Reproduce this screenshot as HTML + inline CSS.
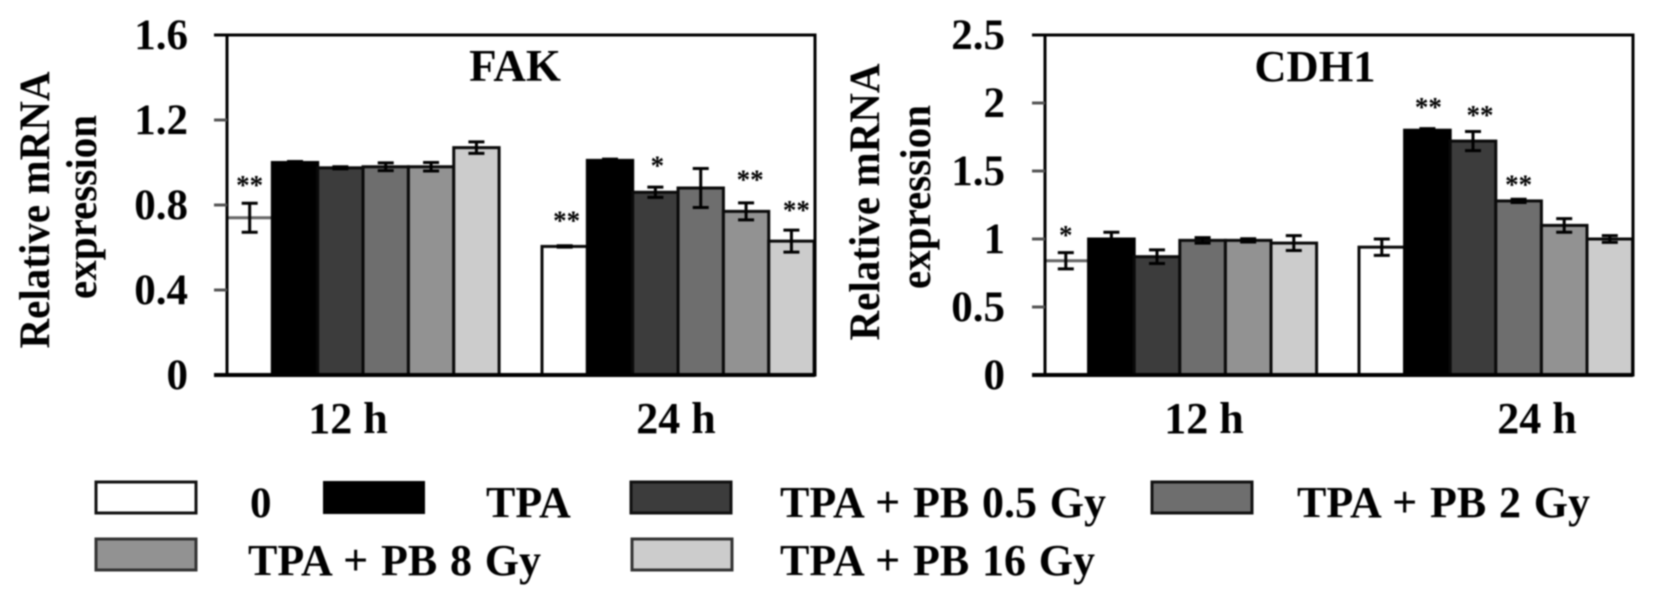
<!DOCTYPE html>
<html>
<head>
<meta charset="utf-8">
<style>
html,body{margin:0;padding:0;background:#fff;width:1654px;height:603px;overflow:hidden}
svg{display:block;filter:blur(0.7px)}
text{font-family:"Liberation Serif",serif;font-weight:bold;fill:#000}
.legend-text{word-spacing:1.8px}
</style>
</head>
<body>
<svg id="figure" width="1654" height="603" viewBox="0 0 1654 603" xmlns="http://www.w3.org/2000/svg">
  <rect x="0" y="0" width="1654" height="603" fill="#fff"/>
  <g id="panel-fak"></g>
  <g id="panel-cdh1"></g>

  <text x="515" y="81" font-size="45" text-anchor="middle">FAK</text>
  <text x="1315" y="81" font-size="44.5" text-anchor="middle">CDH1</text>

  <text transform="translate(49,210) rotate(-90)" font-size="43" text-anchor="middle" textLength="277" lengthAdjust="spacingAndGlyphs">Relative mRNA</text>
  <text transform="translate(96,207) rotate(-90)" font-size="43" text-anchor="middle" textLength="184" lengthAdjust="spacingAndGlyphs">expression</text>
  <text transform="translate(879,202) rotate(-90)" font-size="43" text-anchor="middle" textLength="277" lengthAdjust="spacingAndGlyphs">Relative mRNA</text>
  <text transform="translate(930,197) rotate(-90)" font-size="43" text-anchor="middle" textLength="184" lengthAdjust="spacingAndGlyphs">expression</text>

  <g>
    <rect x="96" y="482" width="100" height="31" fill="#fff" stroke="#111" stroke-width="3"/>
    <text x="250" y="517" font-size="43">0</text>
    <rect x="324" y="482" width="100" height="31" fill="#000" stroke="#000" stroke-width="2"/>
    <text x="486" y="517" font-size="44">TPA</text>
    <rect x="631" y="482" width="100" height="31" fill="#3c3c3c" stroke="#111" stroke-width="3"/>
    <text class="legend-text" x="780" y="517" font-size="44">TPA + PB 0.5 Gy</text>
    <rect x="1152" y="482" width="100" height="31" fill="#6e6e6e" stroke="#111" stroke-width="3"/>
    <text class="legend-text" x="1297" y="517" font-size="44">TPA + PB 2 Gy</text>
    <rect x="96" y="539" width="100" height="31" fill="#929292" stroke="#333" stroke-width="3"/>
    <text class="legend-text" x="248" y="575" font-size="44">TPA + PB 8 Gy</text>
    <rect x="632" y="539" width="100" height="31" fill="#cccccc" stroke="#333" stroke-width="3"/>
    <text class="legend-text" x="780" y="575" font-size="44">TPA + PB 16 Gy</text>
  </g>
</svg>
<script>
// Shared data
const groupLabels = ['12 h', '24 h'];
const treatments = ['0', 'TPA', 'TPA + PB 0.5 Gy', 'TPA + PB 2 Gy', 'TPA + PB 8 Gy', 'TPA + PB 16 Gy'];
const barColors = ['#ffffff', '#000000', '#3c3c3c', '#6e6e6e', '#929292', '#cccccc'];

// FAK data
const fakTicks = [0, 0.4, 0.8, 1.2, 1.6];
const fakTickLabels = ['0', '0.4', '0.8', '1.2', '1.6'];
const fak12h = [0.74, 1.0, 0.975, 0.98, 0.98, 1.07];
const fak24h = [0.605, 1.01, 0.86, 0.88, 0.77, 0.63];
const fakErr12h = [0.068, 0.005, 0.005, 0.018, 0.02, 0.027];
const fakErr24h = [0.003, 0.006, 0.024, 0.092, 0.04, 0.052];
const fakStars12h = ['**', '', '', '', '', ''];
const fakStars24h = ['**', '', '*', '', '**', '**'];
const fakStarLevels12h = [0.912, 0, 0, 0, 0, 0];
const fakStarLevels24h = [0.745, 0, 1.005, 0, 0.94, 0.795];

// CDH1 data
const cdh1Ticks = [0, 0.5, 1, 1.5, 2, 2.5];
const cdh1TickLabels = ['0', '0.5', '1', '1.5', '2', '2.5'];
const cdh112h = [0.84, 1.0, 0.87, 0.99, 0.99, 0.97];
const cdh124h = [0.94, 1.8, 1.72, 1.28, 1.1, 1.0];
const cdh1Err12h = [0.06, 0.05, 0.05, 0.02, 0.012, 0.055];
const cdh1Err24h = [0.06, 0.012, 0.07, 0.012, 0.05, 0.025];
const cdh1Stars12h = ['*', '', '', '', '', ''];
const cdh1Stars24h = ['', '**', '**', '**', '', ''];
const cdh1StarLevels12h = [1.06, 0, 0, 0, 0, 0];
const cdh1StarLevels24h = [0, 2.0, 1.94, 1.43, 0, 0];

const NS = 'http://www.w3.org/2000/svg';
function make(parent, tag, attrs) {
  const el = document.createElementNS(NS, tag);
  for (const k in attrs) el.setAttribute(k, attrs[k]);
  parent.appendChild(el);
  return el;
}

function drawPanel(cfg) {
  const root = document.getElementById(cfg.id);
  const top = 35, bottom = 375;
  const y = v => bottom - (v / cfg.yMax) * (bottom - top);
  const x = (g, j) => cfg.groupX[g] + j * cfg.barW;

  cfg.series.forEach((vals, g) => {
    vals.forEach((v, j) => {
      const barLeft = Math.max(x(g, j), cfg.left);
      const bar = make(root, 'rect', {
        x: barLeft, y: y(v), width: x(g, j) + cfg.barW - barLeft, height: y(0) - y(v),
        fill: barColors[j],
        stroke: (g === 0 && j === 0) ? '#666' : (j === 1 ? '#000' : '#0a0a0a'),
        'stroke-width': 3
      });
      
      
    });
  });

  const frame = make(root, 'rect', {
    x: cfg.left, y: top, width: cfg.right - cfg.left, height: bottom - top,
    fill: 'none', stroke: '#000', 'stroke-width': 3
  });
  
  

  const base = make(root, 'line', {
    x1: cfg.left - 13, x2: cfg.right, y1: bottom, y2: bottom, stroke: '#000', 'stroke-width': 4
  });
  
  

  cfg.series.forEach((vals, g) => {
    vals.forEach((v, j) => {
      const e = cfg.errors[g][j];
      const cx = x(g, j) + cfg.barW / 2;
      const d = 'M' + cx + ' ' + y(v + e) + 'V' + y(v - e) +
        'M' + (cx - 8) + ' ' + y(v + e) + 'h16' +
        'M' + (cx - 8) + ' ' + y(v - e) + 'h16';
      const err = make(root, 'path', { d: d, fill: 'none', stroke: '#000', 'stroke-width': 3 });
      
      

      const star = cfg.stars[g][j];
      if (star) {
        const shift = cfg.starShift[g + '-' + j] || 0;
        const s = make(root, 'text', { x: cx + shift, y: y(cfg.starLevels[g][j]) + 13, 'font-size': 27, 'text-anchor': 'middle' });
        s.textContent = star;
        
        
      }
    });
  });

  cfg.ticks.forEach((t, i) => {
    const tick = make(root, 'line', {
      x1: cfg.left - 13, x2: cfg.left, y1: y(t), y2: y(t),
      stroke: (t === 0 || i === cfg.ticks.length - 1) ? '#000' : '#555', 'stroke-width': 3
    });
    
    
    const label = make(root, 'text', { x: cfg.tickRight, y: y(t) + 14, 'font-size': 43, 'text-anchor': 'end' });
    label.textContent = cfg.tickLabels[i];
    
    
  });

  groupLabels.forEach((g, i) => {
    const label = make(root, 'text', { x: cfg.groupLabelX[i], y: 433, 'font-size': 44, 'text-anchor': 'middle' });
    label.textContent = g;
    
    
  });
}

drawPanel({
  id: 'panel-fak', name: 'fak', left: 227, right: 815, yMax: 1.6, barW: 45.35,
  groupX: [227, 542], groupLabelX: [348, 676], tickRight: 188,
  ticks: fakTicks, tickLabels: fakTickLabels,
  series: [fak12h, fak24h], errors: [fakErr12h, fakErr24h],
  stars: [fakStars12h, fakStars24h], starLevels: [fakStarLevels12h, fakStarLevels24h],
  starShift: { '1-0': 2, '1-2': 2, '1-4': 4, '1-5': 5 }
});

drawPanel({
  id: 'panel-cdh1', name: 'cdh1', left: 1045, right: 1633, yMax: 2.5, barW: 45.6,
  groupX: [1043, 1359], groupLabelX: [1204, 1537], tickRight: 1005,
  ticks: cdh1Ticks, tickLabels: cdh1TickLabels,
  series: [cdh112h, cdh124h], errors: [cdh1Err12h, cdh1Err24h],
  stars: [cdh1Stars12h, cdh1Stars24h], starLevels: [cdh1StarLevels12h, cdh1StarLevels24h],
  starShift: { '1-1': 1, '1-2': 7 }
});
</script>
</body>
</html>
